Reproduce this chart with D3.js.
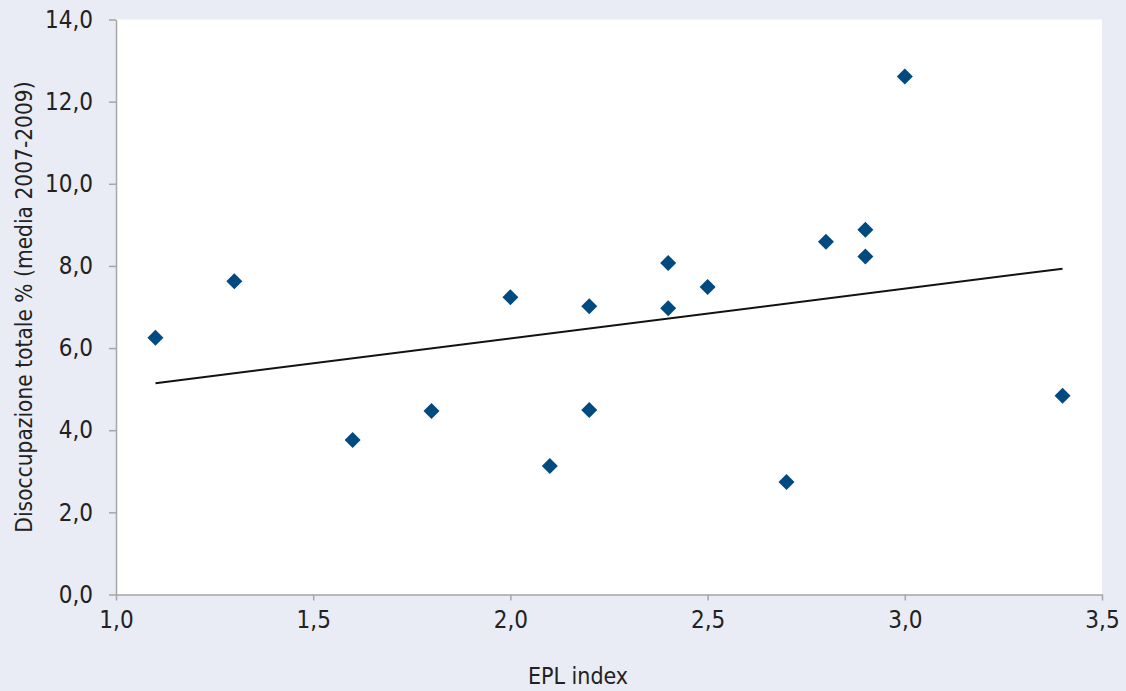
<!DOCTYPE html>
<html lang="it">
<head>
<meta charset="utf-8">
<title>EPL index vs disoccupazione</title>
<script src="https://d3js.org/d3.v7.min.js"></script>
<style>
  body { margin: 0; background: #e9ecf4; }
  svg text { font-family: "Liberation Sans Narrow", "DejaVu Sans Condensed", "Open Sans", sans-serif; fill: #222; }
</style>
</head>
<body>
<svg width="1126" height="691"></svg>
<script>
// EPL index (x) and unemployment % (y)
const epl = [1.1, 1.3, 1.6, 1.8, 2.0, 2.1, 2.2, 2.2, 2.4, 2.4, 2.5, 2.7, 2.8, 2.9, 2.9, 3.0, 3.4];
const disocc = [6.25, 7.63, 3.76, 4.47, 7.24, 3.13, 7.02, 4.49, 8.07, 6.97, 7.49, 2.74, 8.59, 8.88, 8.23, 12.61, 4.84];
const xTicks = [1.0, 1.5, 2.0, 2.5, 3.0, 3.5];
const yTicks = [0, 2, 4, 6, 8, 10, 12, 14];

const svg = d3.select("svg");
const plotL = 116, plotR = 1102, plotT = 19.5, plotB = 594.5;
const fmt = d => d3.format(".1f")(d).replace(".", ",");

const x = d3.scaleLinear().domain([1, 3.5]).range([plotL, plotR]);
const y = d3.scaleLinear().domain([0, 14]).range([plotB, plotT]);

svg.append("rect")
  .attr("x", plotL).attr("y", plotT)
  .attr("width", plotR - plotL).attr("height", plotB - plotT)
  .attr("fill", "#fff");

const xAxis = svg.append("g")
  .attr("transform", `translate(0,${plotB})`)
  .call(d3.axisBottom(x).tickValues(xTicks).tickFormat(fmt).tickSizeInner(6).tickSizeOuter(0).tickPadding(10));
const yAxis = svg.append("g")
  .attr("transform", `translate(${plotL},0)`)
  .call(d3.axisLeft(y).tickValues(yTicks).tickFormat(fmt).tickSizeInner(7).tickSizeOuter(0).tickPadding(16));

[xAxis, yAxis].forEach(g => {
  g.selectAll("path, line").attr("stroke", "#a6a6a6").attr("stroke-width", 1.5);
  g.selectAll("text").attr("font-size", 24).style("fill", "#222");
});

// linear trend (least squares)
const pts = epl.map((v, i) => [v, disocc[i]]);
const mx = d3.mean(epl), my = d3.mean(disocc);
const slope = d3.sum(pts, p => (p[0] - mx) * (p[1] - my)) / d3.sum(pts, p => (p[0] - mx) ** 2);
const icpt = my - slope * mx;
const xr = d3.extent(epl);
svg.append("path")
  .datum(xr.map(v => [v, icpt + slope * v]))
  .attr("d", d3.line().x(d => x(d[0])).y(d => y(d[1])))
  .attr("stroke", "#111").attr("stroke-width", 2).attr("fill", "none");

svg.append("g").selectAll("path")
  .data(pts)
  .join("path")
  .attr("transform", d => `translate(${x(d[0])},${y(d[1])})`)
  .attr("d", "M0,-8L8,0L0,8L-8,0Z")
  .attr("fill", "#004a80");

svg.append("text")
  .attr("x", 578).attr("y", 684)
  .attr("text-anchor", "middle").attr("font-size", 23)
  .text("EPL index");

svg.append("text")
  .attr("transform", "translate(32,307) rotate(-90)")
  .attr("text-anchor", "middle").attr("font-size", 22.5)
  .text("Disoccupazione totale % (media 2007-2009)");
</script>
</body>
</html>
